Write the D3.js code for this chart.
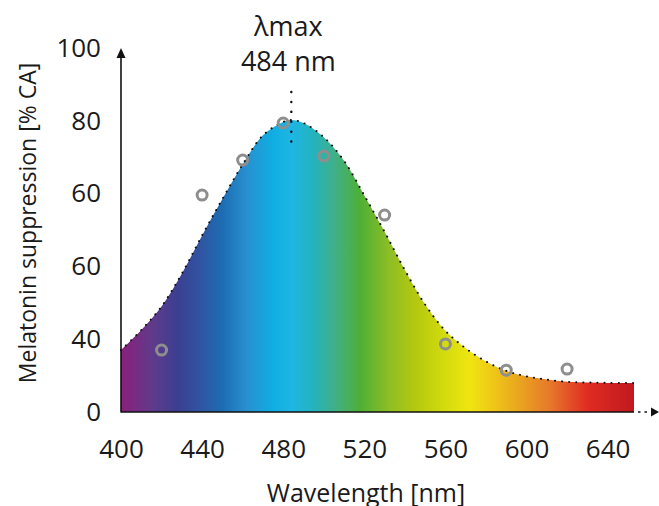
<!DOCTYPE html>
<html>
<head>
<meta charset="utf-8">
<script src="https://cdn.jsdelivr.net/npm/d3@7"></script>
<style>
  html, body { margin: 0; padding: 0; background: #fff; }
  svg { display: block; font-family: "Open Sans", sans-serif; }
</style>
</head>
<body>
<div id="figure"></div>
<script>
// sensitivity curve (wavelength in nm, suppression in plot units)
var curveNm    = [400, 410, 420, 430, 440, 450, 460, 470, 480, 484, 490, 500, 510, 520, 530, 540, 550, 560, 570, 580, 590, 600, 610, 620, 630, 640, 653];
var curveValue = [17.0, 22.5, 29.0, 38.0, 48.5, 58.5, 68.0, 76.0, 79.7, 80.2, 79.4, 75.5, 69.0, 59.5, 49.5, 39.0, 29.5, 22.3, 17.5, 13.9, 11.3, 9.8, 8.9, 8.3, 8.1, 8.0, 8.0];

// measured points
var pointNm    = [420, 440, 460, 480, 500, 530, 560, 590, 620];
var pointValue = [17.0, 59.6, 69.2, 79.4, 70.3, 54.1, 18.7, 11.5, 11.8];

// axis ticks (labels as printed on the figure)
var xTicks = [400, 440, 480, 520, 560, 600, 640];
var yTicks = [0, 20, 40, 60, 80, 100];
var yTickLabels = ["0", "40", "60", "60", "80", "100"];

var peakNm = 484;

const W = 659, H = 506;
const svg = d3.select("#figure").append("svg")
  .attr("width", W).attr("height", H);

const x = d3.scaleLinear().domain([400, 653]).range([121, 634]);
const y = d3.scaleLinear().domain([0, 100]).range([412, 48]);

// spectrum gradient
const spectrum = [
  [400, "#8a1f7b"], [415, "#613a8a"], [428, "#3b3f92"], [440, "#2f56a3"],
  [450, "#1c6db3"], [462, "#2890d0"], [475, "#0faee2"], [484, "#1eb6e4"],
  [495, "#24b3bd"], [505, "#3fb08a"], [518, "#4faf35"], [532, "#8cbe25"],
  [545, "#b4c80f"], [560, "#d3dc0d"], [572, "#f0e511"], [585, "#eec318"],
  [597, "#e9a31f"], [612, "#e6772a"], [630, "#e02c22"], [653, "#c0191e"]
];
const defs = svg.append("defs");
const grad = defs.append("linearGradient")
  .attr("id", "spectrum")
  .attr("gradientUnits", "userSpaceOnUse")
  .attr("x1", x(400)).attr("x2", x(653))
  .attr("y1", 0).attr("y2", 0);
grad.selectAll("stop").data(spectrum).join("stop")
  .attr("offset", d => (d[0] - 400) / (653 - 400))
  .attr("stop-color", d => d[1]);

const data = curveNm.map((d, i) => ({nm: d, v: curveValue[i]}));

// filled area under curve
const area = d3.area()
  .x(d => x(d.nm)).y0(y(0)).y1(d => y(d.v))
  .curve(d3.curveCatmullRom);
svg.append("path").datum(data)
  .attr("d", area)
  .attr("fill", "url(#spectrum)");

// dotted outline
const line = d3.line()
  .x(d => x(d.nm)).y(d => y(d.v))
  .curve(d3.curveCatmullRom);
svg.append("path").datum(data)
  .attr("d", line)
  .attr("fill", "none")
  .attr("stroke", "#111")
  .attr("stroke-width", 2)
  .attr("stroke-linecap", "round")
  .attr("stroke-dasharray", "0.1 7");

// peak marker
svg.append("line")
  .attr("x1", x(peakNm)).attr("x2", x(peakNm))
  .attr("y1", 92).attr("y2", 142)
  .attr("stroke", "#111").attr("stroke-width", 2.4)
  .attr("stroke-linecap", "round")
  .attr("stroke-dasharray", "0.1 9.8");

svg.append("text")
  .attr("x", x(peakNm) - 3).attr("y", 36)
  .attr("text-anchor", "middle")
  .attr("font-size", 27).attr("fill", "#1a1a1a")
  .text("λmax");
svg.append("text")
  .attr("x", x(peakNm) - 3).attr("y", 71)
  .attr("text-anchor", "middle")
  .attr("font-size", 27).attr("fill", "#1a1a1a")
  .text(peakNm + " nm");

// axes
const xAxis = svg.append("g")
  .attr("transform", `translate(0,${y(0)})`)
  .call(d3.axisBottom(x).tickValues(xTicks).tickSize(0).tickPadding(28).tickFormat(d3.format("d")));
xAxis.select(".domain").remove();
xAxis.selectAll("text").attr("font-size", 26).attr("fill", "#1a1a1a").attr("font-family", "Open Sans");

const yAxis = svg.append("g")
  .attr("transform", `translate(${x(400)},0)`)
  .call(d3.axisLeft(y).tickValues(yTicks).tickSize(0).tickPadding(20).tickFormat((d, i) => yTickLabels[i]));
yAxis.select(".domain").remove();
yAxis.selectAll("text").attr("font-size", 26).attr("fill", "#1a1a1a").attr("font-family", "Open Sans");

// axis lines with arrows
svg.append("line")
  .attr("x1", x(400)).attr("x2", x(400))
  .attr("y1", y(0) + 0.5).attr("y2", y(100) + 8)
  .attr("stroke", "#111").attr("stroke-width", 1.6);
svg.append("path")
  .attr("d", `M${x(400)},${y(100)} l-4.5,10 l9,0 Z`)
  .attr("fill", "#111");

svg.append("line")
  .attr("x1", x(400)).attr("x2", x(653))
  .attr("y1", y(0)).attr("y2", y(0))
  .attr("stroke", "#111").attr("stroke-width", 1.6);
svg.append("line")
  .attr("x1", x(653) + 4).attr("x2", 652)
  .attr("y1", y(0)).attr("y2", y(0))
  .attr("stroke", "#111").attr("stroke-width", 1.6)
  .attr("stroke-dasharray", "2.5 4");
svg.append("path")
  .attr("d", `M${W},${y(0)} l-8,-4.5 l0,9 Z`)
  .attr("fill", "#111");

// measured points
svg.selectAll("circle.pt")
  .data(pointNm.map((d, i) => ({nm: d, v: pointValue[i]})))
  .join("circle")
  .attr("class", "pt")
  .attr("cx", d => x(d.nm)).attr("cy", d => y(d.v))
  .attr("r", 5)
  .attr("fill", "none")
  .attr("stroke", "#8e8e8e")
  .attr("stroke-width", 3);

// axis titles
svg.append("text")
  .attr("x", 366).attr("y", 502)
  .attr("text-anchor", "middle")
  .attr("font-size", 25).attr("fill", "#1a1a1a")
  .text("Wavelength [nm]");
svg.append("text")
  .attr("transform", "translate(36,223) rotate(-90)")
  .attr("text-anchor", "middle")
  .attr("font-size", 23).attr("fill", "#1a1a1a")
  .text("Melatonin suppression [% CA]");
</script>
</body>
</html>
